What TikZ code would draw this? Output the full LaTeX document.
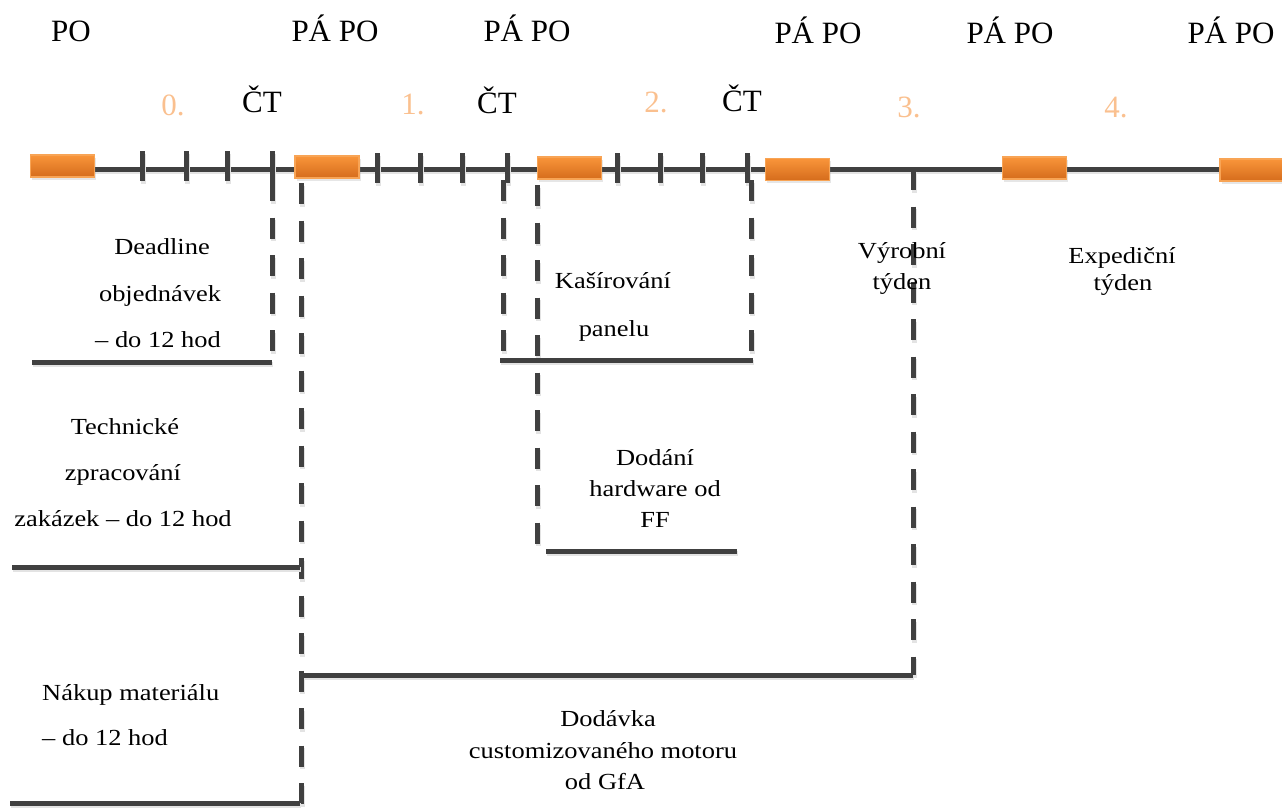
\documentclass[tikz,border=0pt]{standalone}
\usepackage{fontspec}
\setmainfont{Liberation Serif}
\usetikzlibrary{shadows}
\definecolor{lg}{HTML}{404040}
\definecolor{otop}{HTML}{F9953A}
\definecolor{obot}{HTML}{D56C1C}
\definecolor{oborder}{HTML}{F8A455}
\definecolor{numc}{HTML}{FAC08F}
\newcommand{\hs}[1]{\scalebox{1.15}[1]{#1}}
\tikzset{
  tl/.style={font=\fontsize{31}{37}\selectfont, anchor=base, inner sep=0pt},
  num/.style={tl, text=numc},
  body/.style={font=\fontsize{23}{27}\selectfont, anchor=base, inner sep=0pt},
  shad/.style={preaction={draw=black!11, line width=5pt, transform canvas={shift={(1.2pt,-2.5pt)}}, #1}},
  shad/.default={},
  solidline/.style={draw=lg, line width=5pt, shad},
  dashline/.style={draw=lg, line width=5pt, dash pattern=on 21pt off 16.5pt, shad={dash pattern=on 21pt off 16.5pt}},
  tickline/.style={draw=lg, line width=5pt, shad},
  bar/.style={draw=oborder, line width=1.3pt, top color=otop, bottom color=obot,
    minimum width=64pt, minimum height=22pt, inner sep=0pt,
    drop shadow={shadow xshift=1.5pt, shadow yshift=-2.5pt, opacity=0.2}},
}
\begin{document}
\begin{tikzpicture}[x=1pt,y=-1pt]
\useasboundingbox (0,0) rectangle (1282,807);
% axis
\coordinate (axL) at (30,169);
\coordinate (axR) at (1290,169);
\draw[solidline] (axL) -- (axR);
% ticks
\foreach \x in {142,186,227,272} \draw[tickline] (\x,151) -- (\x,181);
\foreach \x in {377,420,462,507,617,660,702,747} \draw[tickline] (\x,153) -- (\x,183);
% orange bars
\node[bar] (r0) at (62.5,166) {};
\node[bar] (r1) at (327,167) {};
\node[bar] (r2) at (569.5,168) {};
\node[bar] (r3) at (797.5,169.5) {};
\node[bar] (r4) at (1034.5,168) {};
\node[bar] (r5) at (1252,170) {};
% top labels
\node[tl] (po0) at (71,41) {PO};
\node[tl] (pp1) at (335,41) {PÁ PO};
\node[tl] (pp2) at (527,41) {PÁ PO};
\node[tl] (pp3) at (818,43) {PÁ PO};
\node[tl] (pp4) at (1010,43) {PÁ PO};
\node[tl] (pp5) at (1231,43) {PÁ PO};
\node[tl] (ct1) at (262,112) {ČT};
\node[tl] (ct2) at (497,113) {ČT};
\node[tl] (ct3) at (742,111) {ČT};
\node[num] (n0) at (173,115) {0.};
\node[num] (n1) at (413,114) {1.};
\node[num] (n2) at (656,112) {2.};
\node[num] (n3) at (909,117) {3.};
\node[num] (n4) at (1116,117) {4.};
% coordinates for brackets
\coordinate (a1) at (272,180); \coordinate (a2) at (272,362); \coordinate (a3) at (32,362);
\coordinate (b1) at (301,183); \coordinate (b2) at (301,804);
\coordinate (c1) at (300,567); \coordinate (c2) at (12,567);
\coordinate (d1) at (300,803); \coordinate (d2) at (10,803);
\coordinate (e1) at (503,180); \coordinate (e2) at (503,360);
\coordinate (e3) at (751,180); \coordinate (e4) at (751,360);
\coordinate (e5) at (500,360); \coordinate (e6) at (753,360);
\coordinate (f1) at (537,185); \coordinate (f2) at (537,544);
\coordinate (f3) at (546,551); \coordinate (f4) at (737,551);
\coordinate (g1) at (913,169); \coordinate (g2) at (913,675);
\coordinate (g3) at (303,675);
% dashed verticals
\draw[dashline] (a1) -- (a2);
\draw[dashline] (b1) -- (b2);
\draw[dashline] (e1) -- (e2);
\draw[dashline] (e3) -- (e4);
\draw[dashline] (f1) -- (f2);
\draw[dashline] (g1) -- (g2);
% solid horizontals
\draw[solidline] (a3) -- (a2);
\draw[solidline] (c2) -- (c1);
\draw[solidline] (d2) -- (d1);
\draw[solidline] (e5) -- (e6);
\draw[solidline] (f3) -- (f4);
\draw[solidline] (g3) -- (g2);
% texts
\node[body] (dl1) at (162,254) {\hs{Deadline}};
\node[body] (dl2) at (160,301) {\hs{objednávek}};
\node[body] (dl3) at (158,347) {\hs{– do 12 hod}};
\node[body] (tz1) at (125,434) {\hs{Technické}};
\node[body] (tz2) at (123,480) {\hs{zpracování}};
\node[body] (tz3) at (123,526) {\hs{zakázek – do 12 hod}};
\node[body, anchor=base west] (nm1) at (42,700) {\hs{Nákup materiálu}};
\node[body, anchor=base west] (nm2) at (42,745) {\hs{– do 12 hod}};
\node[body] (ka1) at (613,288) {\hs{Kašírování}};
\node[body] (ka2) at (614,336) {\hs{panelu}};
\node[body] (dh1) at (655,465) {\hs{Dodání}};
\node[body] (dh2) at (655,496) {\hs{hardware od}};
\node[body] (dh3) at (655,527) {\hs{FF}};
\node[body] (vt1) at (902,258) {\hs{Výrobní}};
\node[body] (vt2) at (902,289) {\hs{týden}};
\node[body] (et1) at (1122,263) {\hs{Expediční}};
\node[body] (et2) at (1123,290) {\hs{týden}};
\node[body] (dm1) at (608,726) {\hs{Dodávka}};
\node[body] (dm2) at (603,758) {\hs{customizovaného motoru}};
\node[body] (dm3) at (605,789) {\hs{od GfA}};
\end{tikzpicture}
\end{document}
